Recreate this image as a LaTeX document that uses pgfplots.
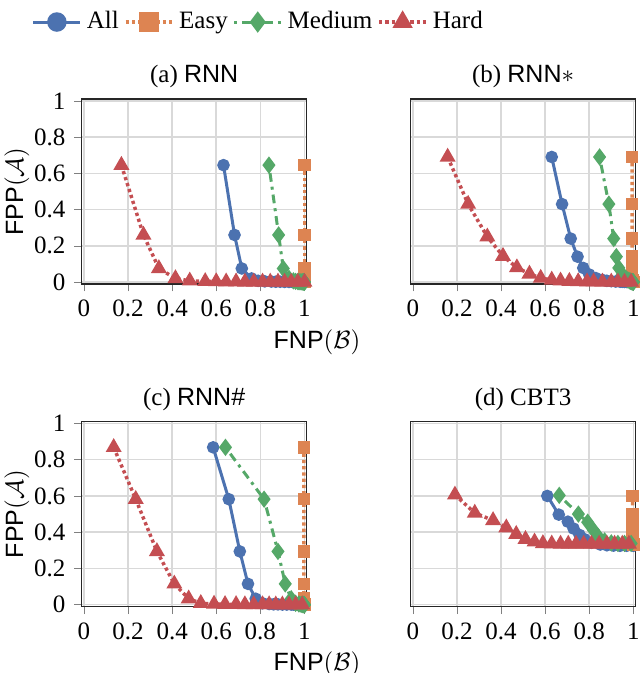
\documentclass[border=0pt]{standalone}
\usepackage{pgfplots}
\pgfplotsset{compat=1.18}
\usepackage{fontspec}
\setmainfont{Liberation Serif}
\setsansfont{Liberation Sans}
\definecolor{cB}{HTML}{4C72B0}
\definecolor{cO}{HTML}{DD8452}
\definecolor{cG}{HTML}{55A868}
\definecolor{cR}{HTML}{C44E52}
\pgfplotsset{
  every axis title/.style={at={(0.5,1)}, anchor=south, yshift=0.8pt, font=\normalsize},
  panel/.style={scale only axis, width=90pt, height=74pt,
    xmin=-0.01, xmax=1.01, ymin=-0.01, ymax=1.01,
    xtick={0,0.2,0.4,0.6,0.8,1}, ytick={0,0.2,0.4,0.6,0.8,1},
    grid=major, major grid style={black!15, line width=0.6pt},
    tick align=outside, xtick pos=bottom, ytick pos=left,
    major tick length=3pt,
    axis line style={black!85, line width=0.5pt},
    /pgf/number format/assume math mode=true,
    tick label style={font=\normalsize},
  },
  noylab/.style={yticklabels={}, ytick style={draw=none}},
  ylab/.style={ylabel={\textsf{FPP}$(\mathcal{A})$},
    ylabel style={at={(axis description cs:-0.288,0.5)}, anchor=center}},
  xlab/.style={xlabel={\textsf{FNP}$(\mathcal{B})$},
    xlabel style={at={(axis description cs:1.046,-0.313)}, anchor=center}},
  sAll/.style={color=cB, solid, line width=1.2pt, mark=*, mark size=1.9pt, mark options={solid}},
  sEasy/.style={color=cO, line width=1.4pt, dash pattern=on 1.3pt off 1.2pt, mark=square*, mark size=1.8pt, mark options={solid}},
  sMed/.style={color=cG, line width=1.2pt, dash pattern=on 1.2pt off 2pt on 3.5pt off 2pt, mark=diamond*, mark size=2.5pt, mark options={solid}},
  sHard/.style={color=cR, line width=1.4pt, dash pattern=on 1.3pt off 1.2pt, mark=triangle*, mark size=2.3pt, mark options={solid}},
}
\begin{document}
\begin{tikzpicture}
\useasboundingbox (-32.7pt,39.6pt) rectangle (223.3pt,-229.7pt);
% (a)
\begin{axis}[panel, ylab, xlab, at={(0pt,0pt)}, anchor=north west,
  title={(a) \textsf{RNN}},
  legend columns=4,
  legend style={draw=none, fill=none, font=\normalsize,
    at={(axis description cs:0.792,1.416)}, anchor=center,
    /tikz/column sep=0pt},
  legend image code/.code={\draw[mark repeat=2, mark phase=2, #1, mark size=3.3pt] plot coordinates {(0cm,0cm) (0.33cm,0cm) (0.66cm,0cm)};}]
\addplot[sAll] coordinates {(0.633,0.645) (0.683,0.26) (0.716,0.075) (0.76,0.02) (0.79,0.007) (0.82,0.004) (0.85,0.003) (0.87,0.002) (0.89,0.002) (0.91,0.001) (0.93,0.001) (0.945,0.001) (0.96,0.001) (0.97,0.001) (0.98,0) (0.99,0) (0.995,0) (1.0,0)};
\addlegendentry{All}
\addplot[sEasy] coordinates {(1.0,0.645) (1.0,0.26) (1.0,0.075) (1.0,0.02) (1.0,0.007) (1.0,0.004) (1.0,0.002) (1.0,0.001) (1.0,0)};
\addlegendentry{Easy}
\addplot[sMed] coordinates {(0.839,0.645) (0.883,0.26) (0.904,0.075) (0.93,0.02) (0.95,0.007) (0.96,0.004) (0.97,0.003) (0.975,0.002) (0.98,0.002) (0.985,0.001) (0.99,0.001) (0.993,0.001) (0.995,0.001) (0.997,0.001) (0.998,0) (0.999,0) (1.0,0) (1.0,0)};
\addlegendentry{Medium}
\addplot[sHard] coordinates {(0.17,0.645) (0.27,0.26) (0.34,0.075) (0.415,0.02) (0.48,0.007) (0.55,0.004) (0.6,0.003) (0.645,0.002) (0.69,0.002) (0.73,0.001) (0.77,0.001) (0.81,0.001) (0.845,0.001) (0.88,0.001) (0.91,0) (0.94,0) (0.97,0) (1.0,0)};
\addlegendentry{Hard}
\end{axis}
% (b)
\begin{axis}[panel, noylab, at={(131.6pt,0pt)}, anchor=north west,
  title={(b) \textsf{RNN}$*$}]
\addplot[sAll] coordinates {(0.63,0.69) (0.677,0.43) (0.716,0.24) (0.747,0.14) (0.773,0.078) (0.80,0.042) (0.83,0.022) (0.86,0.012) (0.88,0.007) (0.9,0.005) (0.92,0.003) (0.94,0.002) (0.95,0.002) (0.96,0.001) (0.97,0.001) (0.98,0.001) (0.99,0) (1.0,0)};
\addplot[sEasy] coordinates {(0.995,0.69) (0.995,0.43) (0.995,0.24) (0.995,0.14) (0.995,0.078) (0.995,0.042) (0.995,0.022) (0.996,0.012) (0.997,0.005) (0.998,0.002) (1.0,0)};
\addplot[sMed] coordinates {(0.847,0.69) (0.889,0.43) (0.911,0.24) (0.923,0.14) (0.934,0.078) (0.95,0.042) (0.965,0.022) (0.975,0.012) (0.982,0.007) (0.987,0.005) (0.99,0.003) (0.993,0.002) (0.995,0.002) (0.997,0.001) (0.998,0.001) (0.999,0.001) (1.0,0) (1.0,0)};
\addplot[sHard] coordinates {(0.158,0.69) (0.251,0.43) (0.338,0.25) (0.409,0.143) (0.472,0.08) (0.529,0.045) (0.58,0.022) (0.63,0.012) (0.67,0.007) (0.71,0.005) (0.75,0.003) (0.79,0.002) (0.82,0.002) (0.86,0.001) (0.9,0.001) (0.93,0.001) (0.96,0) (0.99,0)};
\end{axis}
% (c)
\begin{axis}[panel, ylab, xlab, at={(0pt,-129.1pt)}, anchor=north west,
  title={(c) \textsf{RNN\#}}]
\addplot[sAll] coordinates {(0.586,0.868) (0.657,0.582) (0.707,0.294) (0.744,0.115) (0.779,0.033) (0.81,0.008) (0.84,0.004) (0.86,0.002) (0.88,0.002) (0.9,0.001) (0.92,0.001) (0.94,0.001) (0.95,0.001) (0.96,0) (0.97,0) (0.98,0) (0.99,0) (1.0,0)};
\addplot[sEasy] coordinates {(0.997,0.868) (0.997,0.582) (0.997,0.294) (0.997,0.115) (0.997,0.033) (0.998,0.008) (0.999,0.002) (1.0,0)};
\addplot[sMed] coordinates {(0.642,0.868) (0.817,0.582) (0.880,0.294) (0.913,0.115) (0.94,0.033) (0.96,0.008) (0.975,0.004) (0.985,0.002) (0.99,0.002) (0.993,0.001) (0.995,0.001) (0.997,0.001) (0.998,0.001) (0.999,0) (1.0,0) (1.0,0)};
\addplot[sHard] coordinates {(0.135,0.868) (0.235,0.582) (0.331,0.294) (0.41,0.115) (0.475,0.033) (0.53,0.008) (0.59,0.004) (0.64,0.002) (0.69,0.002) (0.73,0.001) (0.77,0.001) (0.81,0.001) (0.84,0.001) (0.87,0) (0.9,0) (0.93,0) (0.96,0) (0.99,0)};
\end{axis}
% (d)
\begin{axis}[panel, noylab, at={(131.6pt,-129.1pt)}, anchor=north west,
  title={(d) CBT3}]
\addplot[sAll] coordinates {(0.61,0.6) (0.662,0.497) (0.703,0.458) (0.729,0.42) (0.756,0.385) (0.779,0.361) (0.81,0.342) (0.85,0.332) (0.88,0.328) (0.91,0.326) (0.94,0.325) (0.97,0.325) (1.0,0.325)};
\addplot[sEasy] coordinates {(0.997,0.6) (0.997,0.5) (0.997,0.46) (0.997,0.42) (0.997,0.385) (0.997,0.36) (0.997,0.345) (0.998,0.338) (0.999,0.335) (1.0,0.333)};
\addplot[sMed] coordinates {(0.664,0.603) (0.751,0.5) (0.793,0.455) (0.82,0.41) (0.841,0.376) (0.87,0.352) (0.9,0.341) (0.93,0.338) (0.96,0.338) (0.99,0.338)};
\addplot[sHard] coordinates {(0.191,0.606) (0.281,0.506) (0.364,0.465) (0.424,0.425) (0.469,0.389) (0.511,0.361) (0.552,0.347) (0.59,0.338) (0.63,0.336) (0.67,0.335) (0.705,0.335) (0.74,0.335) (0.775,0.335) (0.81,0.335) (0.845,0.335) (0.88,0.335) (0.915,0.335) (0.95,0.335) (0.98,0.335)};
\end{axis}
\end{tikzpicture}
\end{document}
